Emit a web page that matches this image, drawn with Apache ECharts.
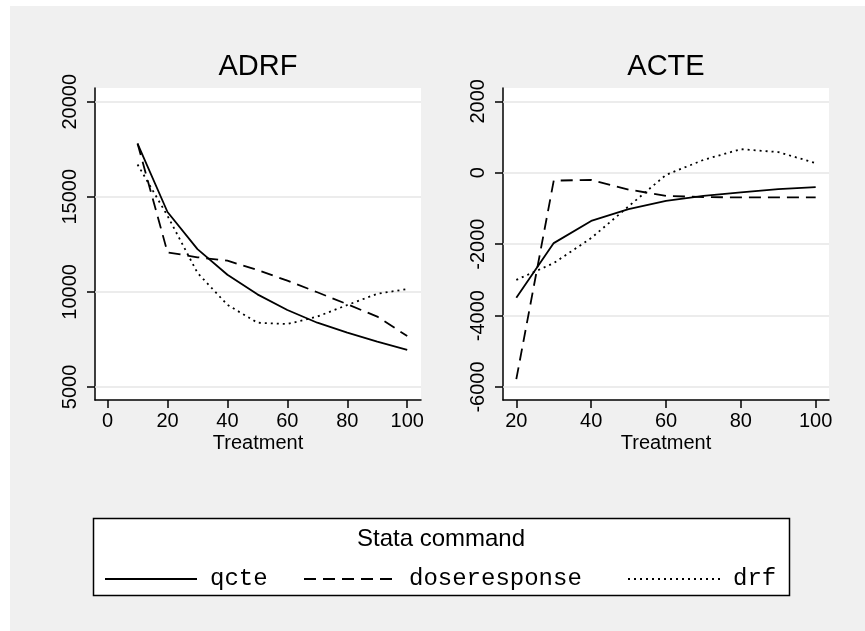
<!DOCTYPE html>
<html>
<head>
<meta charset="utf-8">
<title>ADRF / ACTE</title>
<script src="https://cdn.jsdelivr.net/npm/echarts@6.0.0/dist/echarts.min.js"></script>
<style>
    html, body { margin: 0; padding: 0; background: #fff; }
    #main { width: 865px; height: 631px; }
</style>
</head>
<body>
<div id="main"></div>
<script>
// ADRF 数据 (treatment 10..100)
var treatAdrf = [10, 20, 30, 40, 50, 60, 70, 80, 90, 100];
var adrfQcte = [17800, 14200, 12250, 10900, 9870, 9050, 8380, 7860, 7380, 6950];
var adrfDose = [17800, 12080, 11820, 11640, 11150, 10590, 9980, 9350, 8700, 7680];
var adrfDrf = [16700, 14000, 11000, 9320, 8380, 8310, 8700, 9310, 9900, 10150];

// ACTE 数据 (treatment 20..100)
var treatActe = [20, 30, 40, 50, 60, 70, 80, 90, 100];
var acteQcte = [-3500, -1970, -1350, -1020, -790, -650, -550, -460, -400];
var acteDose = [-5780, -220, -200, -470, -650, -680, -690, -690, -690];
var acteDrf = [-3000, -2530, -1830, -940, -60, 360, 660, 580, 270];

// 刻度
var adrfXTicks = [0, 20, 40, 60, 80, 100];
var adrfYTicks = [5000, 10000, 15000, 20000];
var acteXTicks = [20, 40, 60, 80, 100];
var acteYTicks = [-6000, -4000, -2000, 0, 2000];

var names = ['qcte', 'doseresponse', 'drf'];

var sans = 'Liberation Sans';
var mono = 'Liberation Mono';

function pairs(xs, ys) {
    var out = [];
    for (var i = 0; i < xs.length; i++) {
        out.push([xs[i], ys[i]]);
    }
    return out;
}

// 不要千分位
function plain(v) {
    return String(v);
}

function xAxisOf(idx, min, max, ticks) {
    return {
        type: 'value', gridIndex: idx, min: min, max: max,
        name: 'Treatment', nameLocation: 'middle', nameGap: 33,
        nameTextStyle: { fontFamily: sans, fontSize: 20, color: '#000' },
        axisLine: { onZero: false, lineStyle: { color: '#000', width: 1.5 } },
        axisTick: { length: 8, customValues: ticks, lineStyle: { color: '#000', width: 1.5 } },
        axisLabel: { customValues: ticks, formatter: plain, margin: 11, fontFamily: sans, fontSize: 20, color: '#000' },
        splitLine: { show: false }
    };
}

function yAxisOf(idx, min, max, ticks) {
    return {
        type: 'value', gridIndex: idx, min: min, max: max,
        axisLine: { show: true, onZero: false, lineStyle: { color: '#000', width: 1.5 } },
        axisTick: { show: true, length: 8, customValues: ticks, lineStyle: { color: '#000', width: 1.5 } },
        axisLabel: { customValues: ticks, formatter: plain, rotate: 90, margin: 15, fontFamily: sans, fontSize: 20, color: '#000' },
        splitLine: { show: false }
    };
}

// 网格线用 markLine 画
function gridLines(ticks) {
    var data = [];
    for (var i = 0; i < ticks.length; i++) {
        data.push({ yAxis: ticks[i] });
    }
    return {
        silent: true, symbol: 'none', z: 1,
        label: { show: false },
        lineStyle: { type: 'solid', color: '#e6e6e6', width: 1.5 },
        data: data
    };
}

var styles = [
    { type: 'solid', width: 1.8, color: '#000' },
    { type: [12, 7], width: 1.8, color: '#000' },
    { type: [2, 4], width: 1.8, color: '#000' }
];

function lineSeries(idx, k, xs, ys, ticks) {
    var s = {
        name: names[k], type: 'line', xAxisIndex: idx, yAxisIndex: idx,
        data: pairs(xs, ys), symbol: 'none', color: '#000',
        lineStyle: styles[k], z: 3, animation: false
    };
    if (k == 0) {
        s.markLine = gridLines(ticks);
    }
    return s;
}

function legendOf(name, left) {
    return {
        data: [name], left: left, top: 567, padding: 0, orient: 'horizontal',
        itemWidth: 92, itemHeight: 14, selectedMode: false,
        itemStyle: { color: 'rgba(0,0,0,0)', borderWidth: 0 },
        textStyle: { fontFamily: mono, fontSize: 24, color: '#000', padding: [3, 0, 0, 8] }
    };
}

var myChart = echarts.init(document.getElementById('main'), null, { renderer: 'canvas' });

var option = {
    backgroundColor: '#f0f0f0',
    animation: false,
    grid: [
        { left: 95, top: 88, width: 326, height: 312, show: true, backgroundColor: '#fff', borderWidth: 0 },
        { left: 503, top: 88, width: 326, height: 312, show: true, backgroundColor: '#fff', borderWidth: 0 }
    ],
    xAxis: [
        xAxisOf(0, -4.2, 104.6, adrfXTicks),
        xAxisOf(1, 16.44, 103.56, acteXTicks)
    ],
    yAxis: [
        yAxisOf(0, 4316, 20720, adrfYTicks),
        yAxisOf(1, -6364, 2374, acteYTicks)
    ],
    legend: [
        legendOf('qcte', 104),
        legendOf('doseresponse', 303),
        legendOf('drf', 627)
    ],
    graphic: [
        // 左侧、上侧白边
        { type: 'rect', shape: { x: 0, y: 0, width: 10, height: 631 }, style: { fill: '#fff' }, silent: true },
        { type: 'rect', shape: { x: 0, y: 0, width: 865, height: 6 }, style: { fill: '#fff' }, silent: true },
        // 图例框
        { type: 'rect', shape: { x: 93.5, y: 518.5, width: 696, height: 77 }, style: { fill: '#fff', stroke: '#000', lineWidth: 1.5 }, z: -1, silent: true },
        { type: 'text', x: 441, y: 539, style: { text: 'Stata command', font: '24px ' + sans, fill: '#000', align: 'center', verticalAlign: 'middle', textAlign: 'center', textVerticalAlign: 'middle' }, silent: true },
        // 子图标题
        { type: 'text', x: 258, y: 67, style: { text: 'ADRF', font: '29px ' + sans, fill: '#000', align: 'center', verticalAlign: 'middle', textAlign: 'center', textVerticalAlign: 'middle' }, silent: true },
        { type: 'text', x: 666, y: 67, style: { text: 'ACTE', font: '29px ' + sans, fill: '#000', align: 'center', verticalAlign: 'middle', textAlign: 'center', textVerticalAlign: 'middle' }, silent: true }
    ],
    series: [
        lineSeries(0, 0, treatAdrf, adrfQcte, adrfYTicks),
        lineSeries(0, 1, treatAdrf, adrfDose, adrfYTicks),
        lineSeries(0, 2, treatAdrf, adrfDrf, adrfYTicks),
        lineSeries(1, 0, treatActe, acteQcte, acteYTicks),
        lineSeries(1, 1, treatActe, acteDose, acteYTicks),
        lineSeries(1, 2, treatActe, acteDrf, acteYTicks)
    ]
};

myChart.setOption(option);
</script>
</body>
</html>
